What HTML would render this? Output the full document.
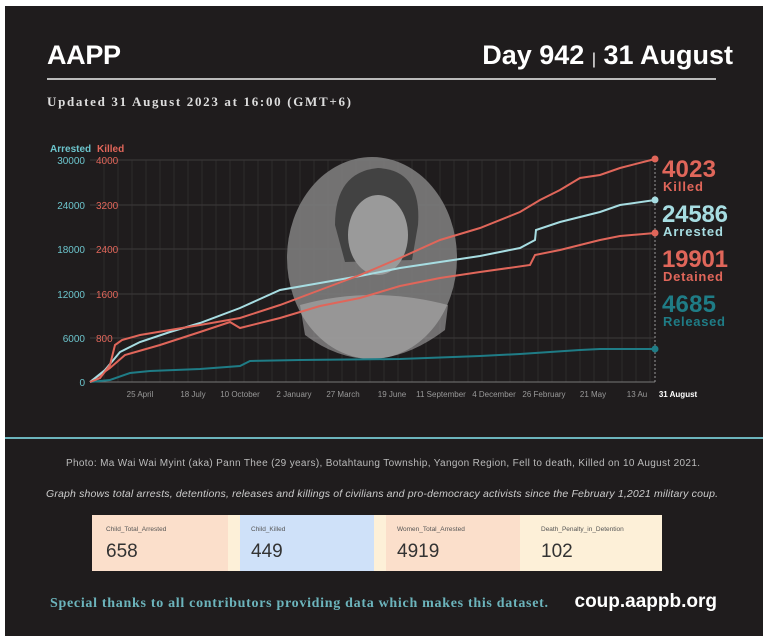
<!DOCTYPE html>
<html><head><meta charset="utf-8"><style>
html,body{margin:0;padding:0;background:#fff;}
#p{position:absolute;left:5px;top:6px;width:758px;height:630px;background:#1f1c1d;overflow:hidden;}
</style></head><body>
<div id="p"></div>
<svg style="position:absolute;left:0;top:0" width="768" height="643" xmlns="http://www.w3.org/2000/svg" font-family="Liberation Sans, sans-serif">
<text x="47" y="64" fill="#fff" font-size="27" font-weight="bold" textLength="74">AAPP</text>
<text x="733" y="64" fill="#fff" font-size="27" font-weight="bold" text-anchor="end">Day 942 <tspan font-size="16" font-weight="normal">|</tspan> 31 August</text>
<line x1="47" y1="79" x2="716" y2="79" stroke="#bbb" stroke-width="2"/>
<text x="47" y="106" fill="#ddd" font-size="13" font-weight="bold" font-family="Liberation Serif, serif" textLength="304">Updated 31 August 2023 at 16:00 (GMT+6)</text>
<g stroke="#4a4647" stroke-width="0.7">
<line x1="90" y1="160" x2="655" y2="160"/><line x1="90" y1="205" x2="655" y2="205"/><line x1="90" y1="249" x2="655" y2="249"/><line x1="90" y1="294" x2="655" y2="294"/><line x1="90" y1="338" x2="655" y2="338"/>
</g>
<g stroke="#3a3637" stroke-width="0.6" id="vg"></g>
<line x1="90" y1="382" x2="655" y2="382" stroke="#777" stroke-width="1"/>
<line x1="655" y1="160" x2="655" y2="382" stroke="#999" stroke-dasharray="2,2"/>
<!-- photo -->
<ellipse cx="372" cy="258" rx="85" ry="101" fill="#7c7c7c" opacity="0.9"/>
<path d="M335 225 Q335 172 378 168 Q422 170 418 225 L412 260 L345 262 Z" fill="#3a3a3a" opacity="0.85"/>
<ellipse cx="378" cy="235" rx="30" ry="40" fill="#9a9a9a"/>
<path d="M300 305 Q372 285 448 305 L445 330 Q372 385 305 335Z" fill="#b5b5b5" opacity="0.55"/>
<g font-size="10" font-weight="bold">
<text x="50" y="152" fill="#6cc4cc">Arrested</text><text x="97" y="152" fill="#e0665a">Killed</text>
</g>
<g font-size="10" fill="#6cc4cc" text-anchor="end">
<text x="85" y="164">30000</text><text x="85" y="209">24000</text><text x="85" y="253">18000</text><text x="85" y="298">12000</text><text x="85" y="342">6000</text><text x="85" y="386">0</text>
</g>
<g font-size="10" fill="#e0665a">
<text x="96" y="164">4000</text><text x="96" y="209">3200</text><text x="96" y="253">2400</text><text x="96" y="298">1600</text><text x="96" y="342">800</text>
</g>
<g font-size="8" fill="#999" text-anchor="middle">
<text x="140" y="397">25 April</text><text x="193" y="397">18 July</text><text x="240" y="397">10 October</text><text x="294" y="397">2 January</text><text x="343" y="397">27 March</text><text x="392" y="397">19 June</text><text x="441" y="397">11 September</text><text x="494" y="397">4 December</text><text x="544" y="397">26 February</text><text x="593" y="397">21 May</text><text x="637" y="397">13 Au</text>
<text x="678" y="397" fill="#fff" font-weight="bold">31 August</text>
</g>
<g fill="none" stroke-width="2">
<polyline stroke="#1f7c86" points="90,382 110,380 130,373 150,371 200,369 240,366 250,361 300,360 400,359 480,356 520,354 580,350 600,349 655,349"/>
<polyline stroke="#e0665a" points="90,382 110,368 125,355 160,345 200,332 230,322 240,328 280,318 320,306 360,298 400,286 440,278 480,272 530,265 535,255 560,250 600,240 620,236 655,233"/>
<polyline stroke="#a7dde2" points="90,382 105,370 120,352 140,342 170,332 200,323 240,308 280,290 320,283 360,276 400,268 440,262 480,256 520,248 535,240 536,230 560,222 600,212 620,205 655,200"/>
<polyline stroke="#e0665a" points="90,382 100,378 110,365 115,345 122,340 140,335 170,330 200,325 240,318 280,305 320,290 360,275 400,258 440,240 480,228 520,212 540,200 560,190 580,178 600,175 620,168 655,159"/>
</g>
<circle cx="655" cy="159" r="3.5" fill="#e0665a"/><circle cx="655" cy="200" r="3.5" fill="#a7dde2"/><circle cx="655" cy="233" r="3.5" fill="#e0665a"/><circle cx="655" cy="349" r="3.5" fill="#1f7c86"/>
<g font-weight="bold">
<text x="662" y="177" font-size="24" fill="#e0665a" textLength="54">4023</text><text x="663" y="191" font-size="13" fill="#e0665a" textLength="40">Killed</text>
<text x="662" y="222" font-size="24" fill="#a7dde2" textLength="66">24586</text><text x="663" y="236" font-size="13" fill="#a7dde2" textLength="60">Arrested</text>
<text x="662" y="267" font-size="24" fill="#e0665a" textLength="66">19901</text><text x="663" y="281" font-size="13" fill="#e0665a" textLength="60">Detained</text>
<text x="662" y="312" font-size="24" fill="#1f7c86" textLength="54">4685</text><text x="663" y="326" font-size="13" fill="#1f7c86" textLength="62">Released</text>
</g>
<line x1="5" y1="438" x2="763" y2="438" stroke="#6cb4bc" stroke-width="2"/>
<text x="66" y="466" fill="#bbb" font-size="10" textLength="634">Photo: Ma Wai Wai Myint (aka) Pann Thee (29 years), Botahtaung Township, Yangon Region, Fell to death, Killed on 10 August 2021.</text>
<text x="46" y="497" fill="#ccc" font-size="10.5" font-style="italic" textLength="672">Graph shows total arrests, detentions, releases and killings of civilians and pro-democracy activists since the February 1,2021 military coup.</text>
<rect x="92" y="515" width="570" height="56" fill="#fdf0d8"/>
<rect x="92" y="515" width="136" height="56" fill="#fbdfcb"/>
<rect x="240" y="515" width="134" height="56" fill="#cfe1f9"/>
<rect x="386" y="515" width="134" height="56" fill="#fbdfcb"/>
<g font-size="6.5" fill="#555"><text x="106" y="531">Child_Total_Arrested</text><text x="251" y="531">Child_Killed</text><text x="397" y="531">Women_Total_Arrested</text><text x="541" y="531">Death_Penalty_in_Detention</text></g>
<g font-size="19" fill="#333"><text x="106" y="557">658</text><text x="251" y="557">449</text><text x="397" y="557">4919</text><text x="541" y="557">102</text></g>
<text x="50" y="607" fill="#6cb4bc" font-size="14" font-weight="bold" font-family="Liberation Serif, serif" textLength="498">Special thanks to all contributors providing data which makes this dataset.</text>
<text x="717" y="607" fill="#fff" font-size="19" font-weight="bold" text-anchor="end">coup.aappb.org</text>
</svg>
<script>
var g=document.getElementById('vg'),s='';for(var x=104;x<655;x+=14){s+='<line x1="'+x+'" y1="160" x2="'+x+'" y2="382"/>';}g.innerHTML=s;
</script>
</body></html>
